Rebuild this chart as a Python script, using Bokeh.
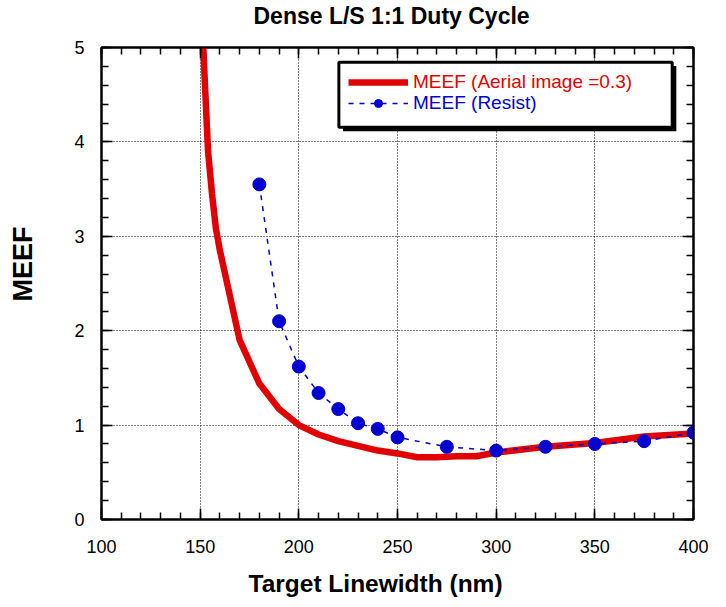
from bokeh.plotting import figure
from bokeh.models import (Range1d, LinearAxis, SingleIntervalTicker, Legend,
                          LegendItem, BoxAnnotation, Grid, Title)
from bokeh.embed import file_html
from bokeh.resources import INLINE

# ---- data ----
aerial_x = [150, 152, 154, 156, 158, 160, 170, 180, 190, 200, 210, 220, 230,
            240, 250, 260, 270, 280, 290, 300, 325, 350, 375, 400]
aerial_y = [5.85, 4.8, 3.9, 3.45, 3.08, 2.85, 1.9, 1.44, 1.17, 1.0, 0.90, 0.83,
            0.78, 0.73, 0.70, 0.66, 0.66, 0.67, 0.67, 0.71, 0.77, 0.81, 0.88, 0.91]

resist_x = [180, 190, 200, 210, 220, 230, 240, 250, 275, 300, 325, 350, 375, 400]
resist_y = [3.55, 2.10, 1.62, 1.34, 1.17, 1.02, 0.96, 0.87, 0.77, 0.73, 0.77,
            0.80, 0.83, 0.92]

title_text = "Dense L/S 1:1 Duty Cycle"
x_label = "Target Linewidth (nm)"
y_label = "MEEF"
label_aerial = "MEEF (Aerial image =0.3)"
label_resist = "MEEF (Resist)"

RED = "#e00000"
BLUE = "#0000d0"
FONT = "Liberation Sans"

p = figure(width=726, height=607, frame_width=592, frame_height=472,
           x_range=Range1d(100, 400), y_range=Range1d(0, 5),
           output_backend="svg", toolbar_location=None,
           x_axis_type=None, y_axis_type=None,
           min_border_left=101, min_border_right=33,
           min_border_top=46, min_border_bottom=89)
p.title = None
p.background_fill_color = "white"
p.border_fill_color = "white"
p.outline_line_color = "black"
p.outline_line_width = 2


def make_axis(show_labels, interval):
    ax = LinearAxis(ticker=SingleIntervalTicker(interval=interval, num_minor_ticks=5))
    ax.axis_line_color = "black"
    ax.axis_line_width = 2
    ax.major_tick_in = 11
    ax.major_tick_out = 0
    ax.minor_tick_in = 7
    ax.minor_tick_out = 0
    ax.major_tick_line_width = 1.5
    ax.minor_tick_line_width = 1.5
    ax.major_tick_line_color = "black"
    ax.minor_tick_line_color = "black"
    if show_labels:
        ax.major_label_text_font = FONT
        ax.major_label_text_font_size = "18px"
        ax.major_label_text_color = "black"
    else:
        ax.major_label_text_font_size = "1px"
        ax.major_label_text_alpha = 0
        ax.major_label_standoff = 0
    return ax


xb = make_axis(True, 50)
xb.major_label_standoff = 20
yl = make_axis(True, 1)
yl.major_label_standoff = 17
xt = make_axis(False, 50)
yr = make_axis(False, 1)
p.add_layout(xb, "below")
p.add_layout(yl, "left")
p.add_layout(xt, "above")
p.add_layout(yr, "right")

# dotted grids
for dim, ax in ((0, xb), (1, yl)):
    g = Grid(dimension=dim, ticker=ax.ticker)
    g.grid_line_color = "black"
    g.grid_line_width = 1
    g.grid_line_dash = "1 2"
    p.add_layout(g)

# series
r_red = p.line(aerial_x, aerial_y, line_color=RED, line_width=6.5)
r_bl = p.line(resist_x, resist_y, line_color=BLUE, line_width=1.5, line_dash="5 6")
r_bs = p.scatter(resist_x, resist_y, marker="circle", size=13,
                 fill_color=BLUE, line_color=BLUE)

# legend box with drop shadow (placed in data space of the fixed ranges)
shadow = BoxAnnotation(left=222.4, right=391.3, top=4.805, bottom=4.113,
                       fill_color="black", fill_alpha=1, line_color=None,
                       level="annotation")
box = BoxAnnotation(left=220.3, right=389.2, top=4.845, bottom=4.155,
                    fill_color="white", fill_alpha=1, line_color="black",
                    line_alpha=1, line_width=3, level="annotation")
p.add_layout(shadow)
p.add_layout(box)


def make_legend(items, color, loc):
    lg = Legend(items=items, location=loc, margin=0, padding=0, spacing=0,
                glyph_width=60, glyph_height=20, label_height=20,
                label_standoff=5, background_fill_alpha=0,
                border_line_alpha=0)
    lg.label_text_font = FONT
    lg.label_text_font_size = "19px"
    lg.label_text_color = color
    return lg


p.add_layout(make_legend([LegendItem(label=label_aerial, renderers=[r_red])], RED, (247, 426)))
p.add_layout(make_legend([LegendItem(label=label_resist, renderers=[r_bl, r_bs])], BLUE, (247, 405)))


def spacer(standoff):
    # blank panel used only to push a title away from the frame
    return Title(text="\u00a0", text_font_size="1px", text_color="white",
                 standoff=standoff)


# chart title (spacer pushes it up from the frame)
p.add_layout(spacer(16), "above")
p.add_layout(Title(text=title_text, align="left", offset=152,
                   text_font=FONT, text_font_size="23px", text_font_style="bold",
                   text_color="black", vertical_align="bottom", standoff=0), "above")
# x-axis title
p.add_layout(Title(text=x_label, align="left", offset=147, text_font=FONT,
                   text_font_size="24.5px", text_font_style="bold",
                   text_color="black", vertical_align="top", standoff=28), "below")
# y-axis title (spacer pushes it left)
p.add_layout(spacer(31), "left")
p.add_layout(Title(text=y_label, align="left", offset=218, text_font=FONT,
                   text_font_size="27px", text_font_style="bold",
                   text_color="black", vertical_align="bottom", standoff=0), "left")

open("out.html", "w").write(file_html(p, INLINE))
